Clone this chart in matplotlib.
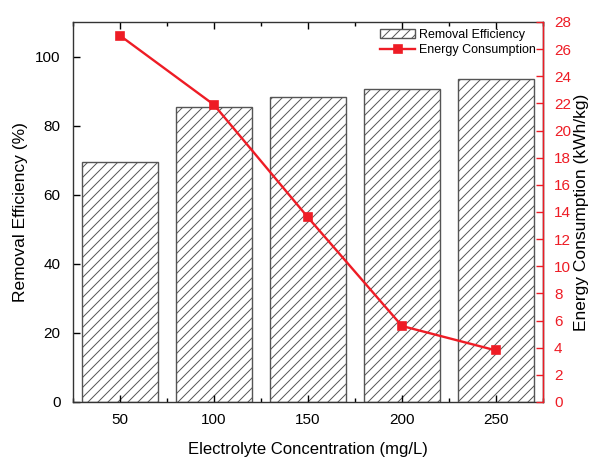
import matplotlib
matplotlib.use("Agg")
import matplotlib.pyplot as plt
from matplotlib.ticker import MultipleLocator

DPI = 120
s = 100.0 / DPI  # keep pixel sizes as designed at 100 dpi

plt.rcParams['font.family'] = ['Liberation Sans', 'DejaVu Sans']
plt.rcParams['hatch.color'] = '#666666'
plt.rcParams['hatch.linewidth'] = 0.7 * s

concentration = [50, 100, 150, 200, 250]
removal_efficiency = [69.5, 85.3, 88.2, 90.7, 93.5]
energy_consumption = [27.0, 21.9, 13.6, 5.6, 3.8]

fig = plt.figure(figsize=(598 / DPI, 465 / DPI), dpi=DPI)
ax = fig.add_axes([0.122, 0.1355, 0.786, 0.8172])
ax2 = ax.twinx()

bars = ax.bar(concentration, removal_efficiency, width=40, facecolor='white',
              edgecolor='#555555', linewidth=1.0 * s, hatch='////', label='Removal Efficiency')
line, = ax2.plot(concentration, energy_consumption, color='#ee1c25', linewidth=1.7 * s,
                 marker='s', markersize=5.5 * s, label='Energy Consumption')

ax.set_xlim(25, 275)
ax.set_ylim(0, 110)
ax2.set_ylim(0, 28)
ax.set_xticks(concentration)
ax.xaxis.set_minor_locator(MultipleLocator(25))
ax.yaxis.set_major_locator(MultipleLocator(20))
ax2.yaxis.set_major_locator(MultipleLocator(2))

for a in (ax, ax2):
    for sp in a.spines.values():
        sp.set_linewidth(1.0 * s)

ax.tick_params(axis='x', which='both', direction='in', top=True, labelsize=11 * s,
               pad=8 * s, width=1.0 * s)
ax.tick_params(axis='x', which='major', length=5 * s)
ax.tick_params(axis='x', which='minor', length=3 * s)
ax.tick_params(axis='y', direction='in', length=5 * s, labelsize=11 * s, pad=9 * s, width=1.0 * s)
ax2.tick_params(axis='y', direction='in', length=5 * s, colors='#ee1c25', labelsize=11 * s,
                pad=8 * s, width=1.0 * s)

for sp in ['left', 'bottom', 'top']:
    ax.spines[sp].set_color('#333333')
ax2.spines['right'].set_color('#ee1c25')
ax2.spines['left'].set_visible(False)
ax2.spines['top'].set_visible(False)
ax2.spines['bottom'].set_visible(False)

ax.set_xlabel('Electrolyte Concentration (mg/L)', fontsize=12 * s, labelpad=11 * s)
ax.set_ylabel('Removal Efficiency (%)', fontsize=12.5 * s, labelpad=5 * s)
ax2.set_ylabel('Energy Consumption (kWh/kg)', fontsize=12.5 * s, color='black', labelpad=2 * s)

leg = ax2.legend([bars, line], ['Removal Efficiency', 'Energy Consumption'],
                 loc='upper right', fontsize=9 * s, frameon=False,
                 handlelength=2.8, borderaxespad=0.15, labelspacing=0.25,
                 handletextpad=0.3)

fig.savefig('out.png', dpi=DPI)
